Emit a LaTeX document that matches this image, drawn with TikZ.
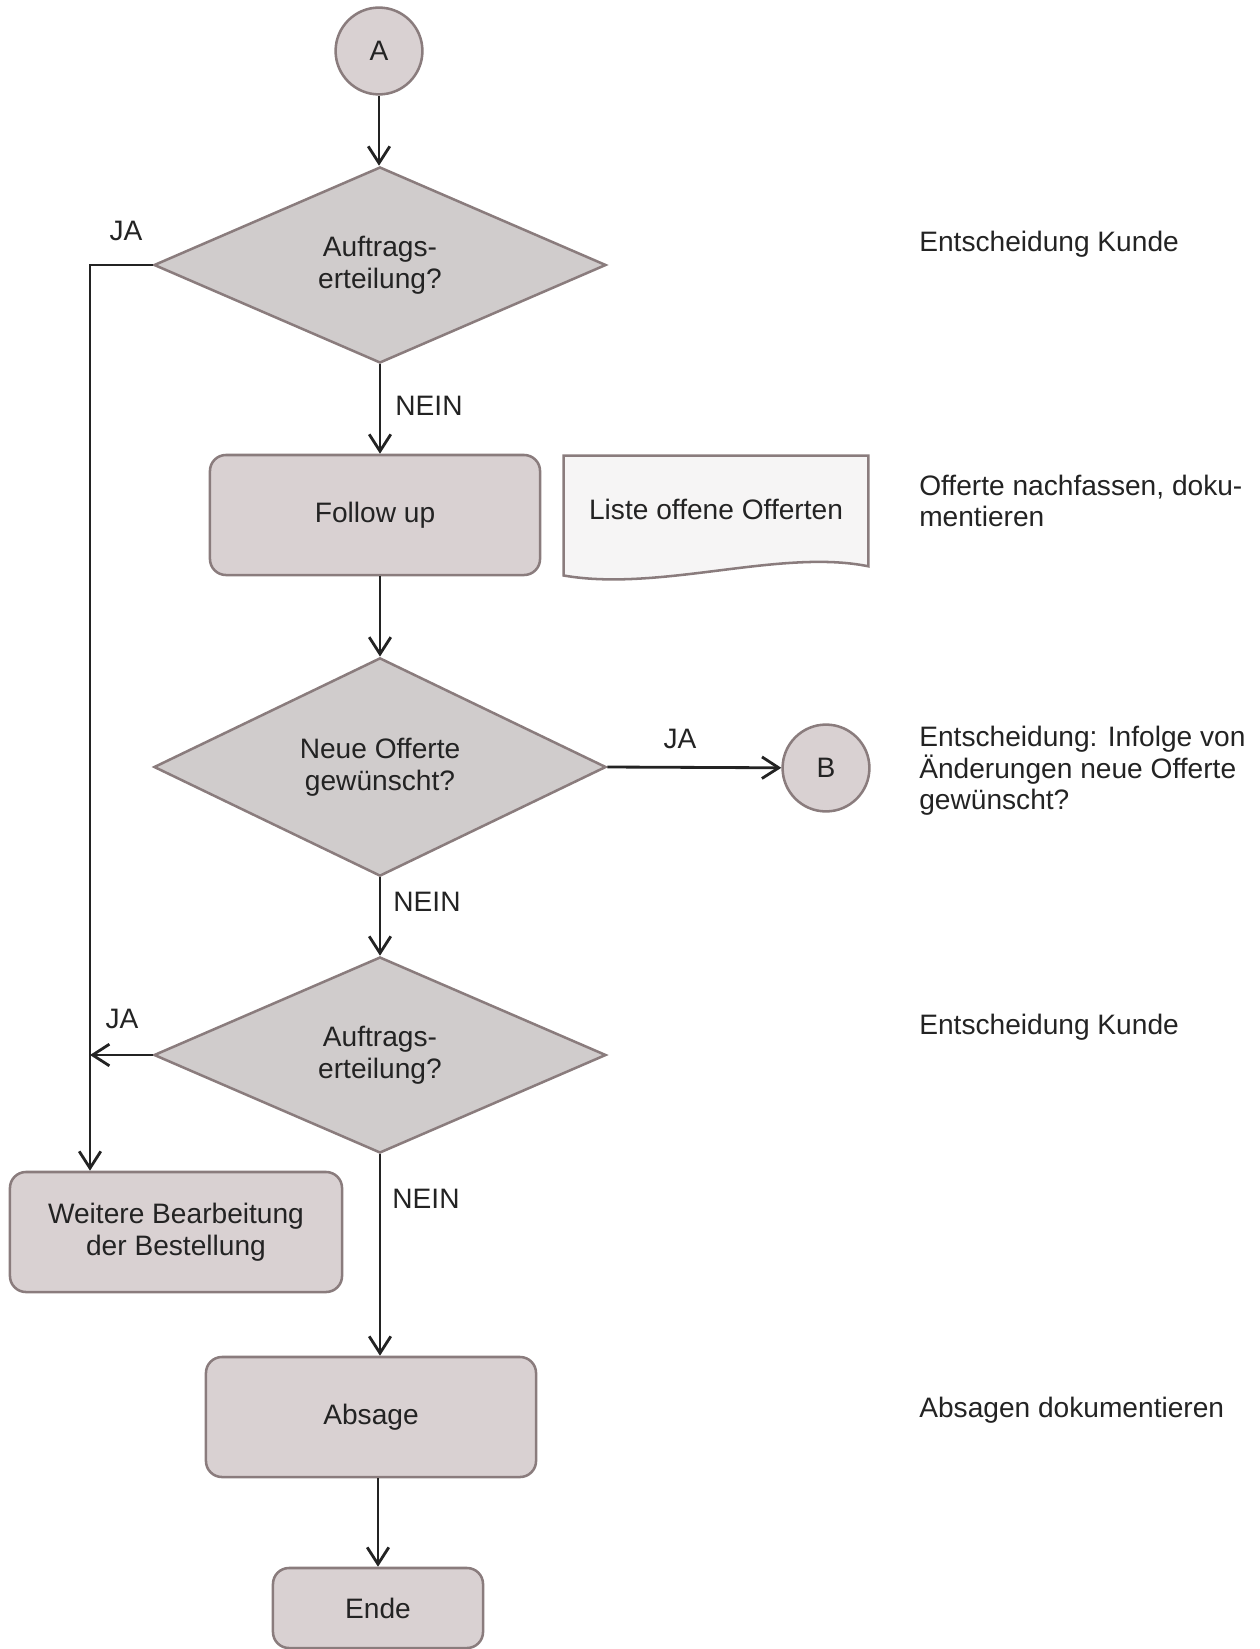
\documentclass[tikz,border=0pt]{standalone}
\usepackage{fontspec}
\setmainfont{Liberation Sans}
\usetikzlibrary{shapes.geometric,arrows.meta,backgrounds}
\definecolor{boxfill}{RGB}{217,209,210}
\definecolor{diafill}{RGB}{208,204,204}
\definecolor{docfill}{RGB}{246,245,245}
\definecolor{rimcol}{RGB}{138,124,125}
\definecolor{inkcol}{RGB}{35,35,35}
\begin{document}
\begin{tikzpicture}[x=0.025cm, y=-0.025cm,
    every node/.style={font=\fontsize{20}{22.5}\selectfont, text=inkcol},
    conn/.style={circle, draw=rimcol, fill=boxfill, line width=1.8pt, minimum size=2.17cm, inner sep=0pt},
    decision/.style={diamond, draw=rimcol, fill=diafill, line width=1.8pt, minimum width=11.3cm, minimum height=4.9cm, inner sep=0pt, align=center},
    process/.style={rectangle, rounded corners=0.4cm, draw=rimcol, fill=boxfill, line width=1.8pt, minimum width=8.25cm, minimum height=3cm, align=center},
    flow/.style={draw=inkcol, line width=2pt, -{Straight Barb[length=4.2mm, width=5.4mm]}},
    note/.style={anchor=west, align=left, inner sep=0pt}]

    \useasboundingbox (0,0) rectangle (1260,1649);

    % Main column
    \node[conn] (a) at (379,51) {A};
    \node[decision] (d1) at (380,265) {Auftrags-\\erteilung?};
    \node[process] (fu) at (375,515) {Follow up};
    \node[decision] (d2) at (380,767) {Neue Offerte\\gewünscht?};
    \node[conn] (b) at (826,768) {B};
    \node[decision] (d3) at (380,1055) {Auftrags-\\erteilung?};
    \node[process, minimum width=8.3cm] (wb) at (176,1232) {Weitere Bearbeitung\\der Bestellung};
    \node[process] (abs) at (371,1417) {Absage};
    \node[process, minimum width=5.25cm, minimum height=2cm] (ende) at (378,1608) {Ende};

    % Document
    \node[minimum width=7.6cm, minimum height=2.65cm, inner sep=0pt] (liste) at (716,509) {Liste offene Offerten};
    \begin{scope}[on background layer]
        \draw[draw=rimcol, fill=docfill, line width=1.8pt] (liste.north west) -- (liste.north east)
            -- ([yshift=-0.1cm]liste.south east)
            .. controls ([xshift=-2.2cm, yshift=0.35cm]liste.south east) and ([xshift=2.4cm, yshift=-0.75cm]liste.south west)
            .. ([yshift=-0.33cm]liste.south west) -- cycle;
    \end{scope}

    % Connectors
    \coordinate (bend) at (90,265);
    \draw[flow] (a.south) -- (a.south |- d1.north);
    \draw[flow] (d1.south) -- (d1.south |- fu.north);
    \draw[flow] (d2.north |- fu.south) -- (d2.north);
    \draw[flow] (d2) -- (d3);
    \draw[flow] (d2.east) -- (b);
    \draw[flow] (d3.south) -- (d3.south |- abs.north);
    \draw[flow] (abs.south -| ende.north) -- (ende.north);
    \draw[flow] (d1.west) -- (bend) -- (bend |- wb.north);
    \draw[flow] (d3.west) -- (d3.west -| bend);

    % Branch labels
    \node (ja1) at (126,231) {JA};
    \node (nein1) at (429,406) {NEIN};
    \node (ja2) at (680,739) {JA};
    \node (nein2) at (427,902) {NEIN};
    \node (ja3) at (122,1019) {JA};
    \node (nein3) at (426,1199) {NEIN};

    % Notes on the right
    \foreach \ny/\ntext [count=\i] in {244/{Entscheidung Kunde},
            501/{Offerte nachfassen, doku-\\mentieren},
            771/{Entscheidung: Infolge von\\Änderungen neue Offerte\\gewünscht?},
            1027/{Entscheidung Kunde},
            1410/{Absagen dokumentieren}} {
        \node[note] (note\i) at (919,\ny) {\ntext};
    }
\end{tikzpicture}
\end{document}
